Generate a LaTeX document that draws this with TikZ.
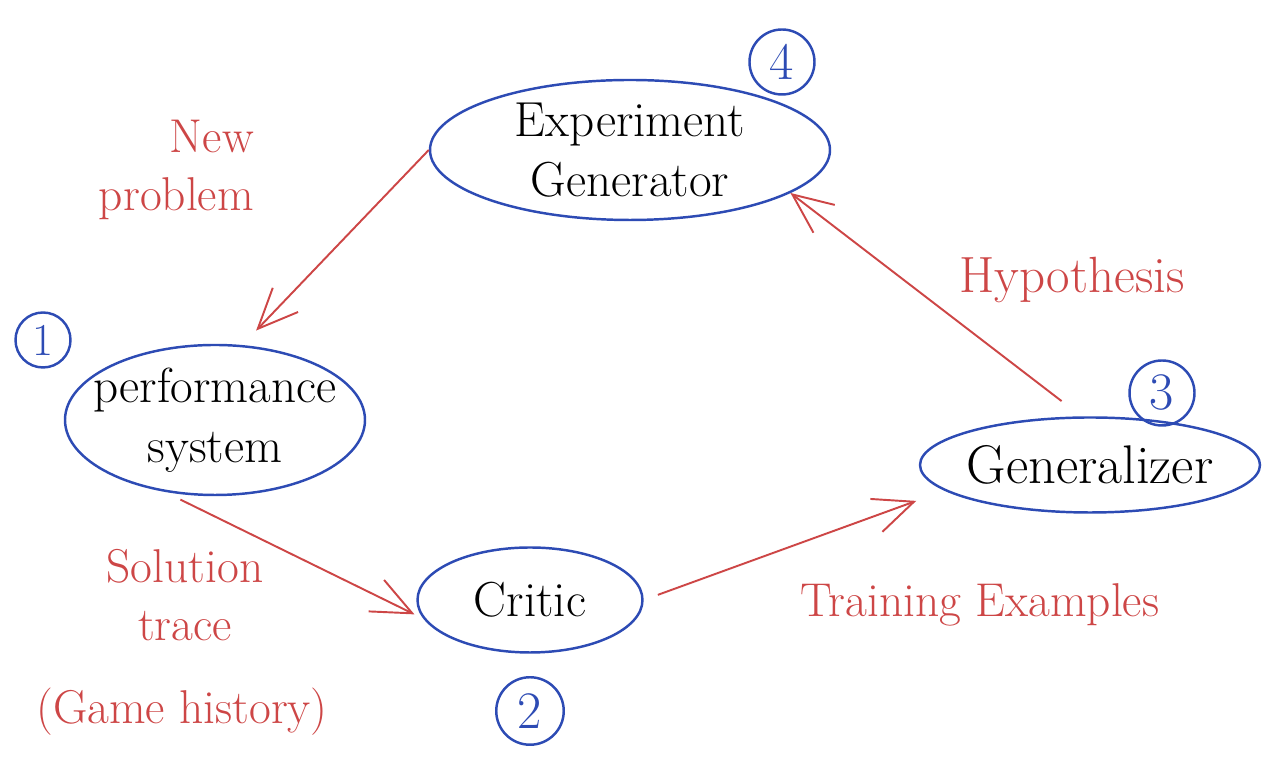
\documentclass[tikz,border=0pt]{standalone}
\usepackage{xcolor}
\definecolor{inkblue}{RGB}{45,75,180}
\definecolor{inkred}{RGB}{205,70,70}
\usetikzlibrary{arrows.meta,shapes,positioning}

\begin{document}
\begin{tikzpicture}[
  sbox/.style={ellipse,draw=inkblue,line width=1.4pt,inner sep=-0.5cm,align=center,font=\fontsize{28}{34}\selectfont},
  nbox/.style={circle,draw=inkblue,line width=1.4pt,inner sep=0pt,minimum size=1.3cm,text=inkblue,font=\fontsize{30}{34}\selectfont},
  lbl/.style={text=inkred,align=center,font=\fontsize{27}{33}\selectfont},
  arrow/.style={-{Straight Barb[length=8mm,width=7mm]},line width=1.1pt,inkred}
]
  \useasboundingbox (0,0) rectangle (25.3,15.22);

  % Stages
  \node[sbox,minimum width=8cm,minimum height=2.8cm] (expgen) at (12.6,12.22) {Experiment\\Generator};
  \node[sbox,minimum width=6cm,minimum height=3cm] (perf) at (4.3,6.82) {performance\\system};
  \node[sbox,minimum width=4.5cm,minimum height=2.1cm] (critic) at (10.6,3.22) {Critic};
  \node[sbox,minimum width=6.8cm,minimum height=1.9cm,font=\fontsize{31}{36}\selectfont] (genz) at (21.8,5.92) {Generalizer};

  % Numbers
  \node[nbox] (n4) at (15.64,13.98) {4};
  \node[nbox,minimum size=1.1cm,font=\fontsize{26}{30}\selectfont] (n1) at (0.86,8.42) {1};
  \node[nbox,minimum size=1.35cm] (n2) at (10.6,1.0) {2};
  \node[nbox,minimum size=1.3cm] (n3) at (23.24,7.36) {3};

  % Labels
  \node[lbl,align=right,anchor=east] (newprob) at (5.2,11.82) {New\\problem};
  \node[lbl] (soltrace) at (3.7,3.32) {Solution\\trace};
  \node[lbl] (gamehist) at (3.64,0.98) {(Game history)};
  \node[lbl] (trainex) at (19.6,3.12) {Training Examples};
  \node[lbl,font=\fontsize{29}{33}\selectfont] (hypo) at (21.44,9.62) {Hypothesis};

  % Arrows
  \draw[arrow,shorten >=0.4cm] (expgen.180) -- (perf.70);
  \draw[arrow,shorten <=0.35cm,shorten >=0.2cm] (perf.235) -- (critic.190);
  \draw[arrow,shorten <=0.3cm,shorten >=0.6cm] (critic.0) -- (genz.190);
  \draw[arrow,shorten <=0.5cm] (genz.100) -- (expgen.-15);
\end{tikzpicture}
\end{document}
